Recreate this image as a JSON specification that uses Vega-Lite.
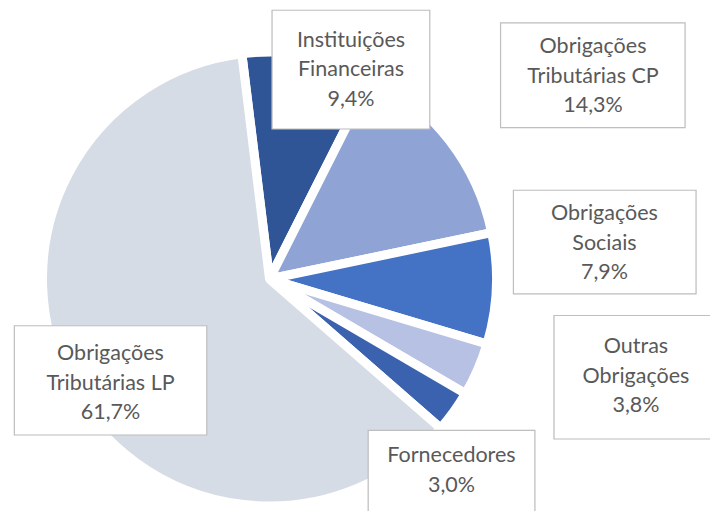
{
  "$schema": "https://vega.github.io/schema/vega-lite/v6.json",
  "width": 539,
  "height": 464,
  "autosize": "none",
  "padding": {"left": 0, "top": 47, "right": 171, "bottom": 0},
  "background": "white",
  "view": {"stroke": null},
  "data": {"values": [
    {"categoria": "Instituições Financeiras", "valor": 9.4, "ordem": 1, "linhas": ["Instituições", "Financeiras", "9,4%"]},
    {"categoria": "Obrigações Tributárias CP", "valor": 14.3, "ordem": 2, "linhas": ["Obrigações", "Tributárias CP", "14,3%"]},
    {"categoria": "Obrigações Sociais", "valor": 7.9, "ordem": 3, "linhas": ["Obrigações", "Sociais", "7,9%"]},
    {"categoria": "Outras Obrigações", "valor": 3.8, "ordem": 4, "linhas": ["Outras", "Obrigações", "3,8%"]},
    {"categoria": "Fornecedores", "valor": 3.0, "ordem": 5, "linhas": ["Fornecedores", "3,0%"]},
    {"categoria": "Obrigações Tributárias LP", "valor": 61.7, "ordem": 6, "linhas": ["Obrigações", "Tributárias LP", "61,7%"]}
  ]},
  "encoding": {
    "theta": {"field": "valor", "type": "quantitative", "stack": true, "scale": {"range": [-0.1222, 6.1610]}},
    "order": {"field": "ordem", "type": "quantitative"}
  },
  "layer": [
    {
      "mark": {"type": "arc", "radius": 227, "stroke": "white", "strokeWidth": 9, "strokeJoin": "bevel"},
      "encoding": {
        "color": {"field": "categoria", "type": "nominal", "legend": null,
          "scale": {"domain": ["Instituições Financeiras", "Obrigações Tributárias CP", "Obrigações Sociais", "Outras Obrigações", "Fornecedores", "Obrigações Tributárias LP"],
                    "range": ["#2F5597", "#8FA4D5", "#4472C4", "#B7C1E3", "#3A62AE", "#D6DCE5"]}}
      }
    },
    {
      "mark": {"type": "text", "radius": 225.3, "thetaOffset": 0.1974, "font": "DejaVu Sans", "fontSize": 200, "dy": 9.6, "fill": "white", "stroke": "#BFBFBF", "strokeWidth": 1.2, "align": "center", "baseline": "alphabetic"},
      "encoding": {"detail": {"field": "categoria"}, "text": {"condition": {"test": "datum.ordem === 1", "value": "▄"}, "value": ""}}
    },
    {
      "mark": {"type": "text", "radius": 225.3, "thetaOffset": 0.1974, "dy": -28, "font": "Lato", "fontSize": 21.5, "lineHeight": 29.5, "fill": "#595959", "align": "center", "baseline": "middle"},
      "encoding": {"detail": {"field": "categoria"}, "text": {"condition": {"test": "datum.ordem === 1", "field": "linhas"}, "value": ""}}
    },
    {
      "mark": {"type": "text", "radius": 382.2, "thetaOffset": 0.0927, "font": "DejaVu Sans", "fontSize": 234, "dy": -6.3, "fill": "white", "stroke": "#BFBFBF", "strokeWidth": 1.2, "align": "center", "baseline": "alphabetic"},
      "encoding": {"detail": {"field": "categoria"}, "text": {"condition": {"test": "datum.ordem === 2", "value": "▃"}, "value": ""}}
    },
    {
      "mark": {"type": "text", "radius": 382.2, "thetaOffset": 0.0927, "dy": -28.5, "font": "Lato", "fontSize": 21.5, "lineHeight": 29.5, "fill": "#595959", "align": "center", "baseline": "middle"},
      "encoding": {"detail": {"field": "categoria"}, "text": {"condition": {"test": "datum.ordem === 2", "field": "linhas"}, "value": ""}}
    },
    {
      "mark": {"type": "text", "radius": 337, "thetaOffset": -0.1525, "font": "DejaVu Sans", "fontSize": 231.6, "dy": -6.2, "fill": "white", "stroke": "#BFBFBF", "strokeWidth": 1.2, "align": "center", "baseline": "alphabetic"},
      "encoding": {"detail": {"field": "categoria"}, "text": {"condition": {"test": "datum.ordem === 3", "value": "▃"}, "value": ""}}
    },
    {
      "mark": {"type": "text", "radius": 337, "thetaOffset": -0.1525, "dy": -28, "font": "Lato", "fontSize": 21.5, "lineHeight": 29.5, "fill": "#595959", "align": "center", "baseline": "middle"},
      "encoding": {"detail": {"field": "categoria"}, "text": {"condition": {"test": "datum.ordem === 3", "field": "linhas"}, "value": ""}}
    },
    {
      "mark": {"type": "text", "radius": 379.4, "thetaOffset": -0.148, "font": "DejaVu Sans", "fontSize": 208, "dy": 10, "fill": "white", "stroke": "#BFBFBF", "strokeWidth": 1.2, "align": "center", "baseline": "alphabetic"},
      "encoding": {"detail": {"field": "categoria"}, "text": {"condition": {"test": "datum.ordem === 4", "value": "▄"}, "value": ""}}
    },
    {
      "mark": {"type": "text", "radius": 379.4, "thetaOffset": -0.148, "dy": -30, "font": "Lato", "fontSize": 21.5, "lineHeight": 29.5, "fill": "#595959", "align": "center", "baseline": "middle"},
      "encoding": {"detail": {"field": "categoria"}, "text": {"condition": {"test": "datum.ordem === 4", "field": "linhas"}, "value": ""}}
    },
    {
      "mark": {"type": "text", "radius": 264.2, "thetaOffset": 0.1876, "font": "DejaVu Sans", "fontSize": 211.4, "dy": 1.1, "fill": "white", "stroke": "#BFBFBF", "strokeWidth": 1.2, "align": "center", "baseline": "alphabetic"},
      "encoding": {"detail": {"field": "categoria"}, "text": {"condition": {"test": "datum.ordem === 5", "value": "▃"}, "value": ""}}
    },
    {
      "mark": {"type": "text", "radius": 264.2, "thetaOffset": 0.1876, "dy": -14.5, "font": "Lato", "fontSize": 21.5, "lineHeight": 29.5, "fill": "#595959", "align": "center", "baseline": "middle"},
      "encoding": {"detail": {"field": "categoria"}, "text": {"condition": {"test": "datum.ordem === 5", "field": "linhas"}, "value": ""}}
    },
    {
      "mark": {"type": "text", "radius": 188.9, "thetaOffset": -0.0826, "font": "DejaVu Sans", "fontSize": 244, "dy": -6.6, "fill": "white", "stroke": "#BFBFBF", "strokeWidth": 1.2, "align": "center", "baseline": "alphabetic"},
      "encoding": {"detail": {"field": "categoria"}, "text": {"condition": {"test": "datum.ordem === 6", "value": "▃"}, "value": ""}}
    },
    {
      "mark": {"type": "text", "radius": 188.9, "thetaOffset": -0.0826, "dy": -27, "font": "Lato", "fontSize": 21.5, "lineHeight": 29.5, "fill": "#595959", "align": "center", "baseline": "middle"},
      "encoding": {"detail": {"field": "categoria"}, "text": {"condition": {"test": "datum.ordem === 6", "field": "linhas"}, "value": ""}}
    }
  ]
}
